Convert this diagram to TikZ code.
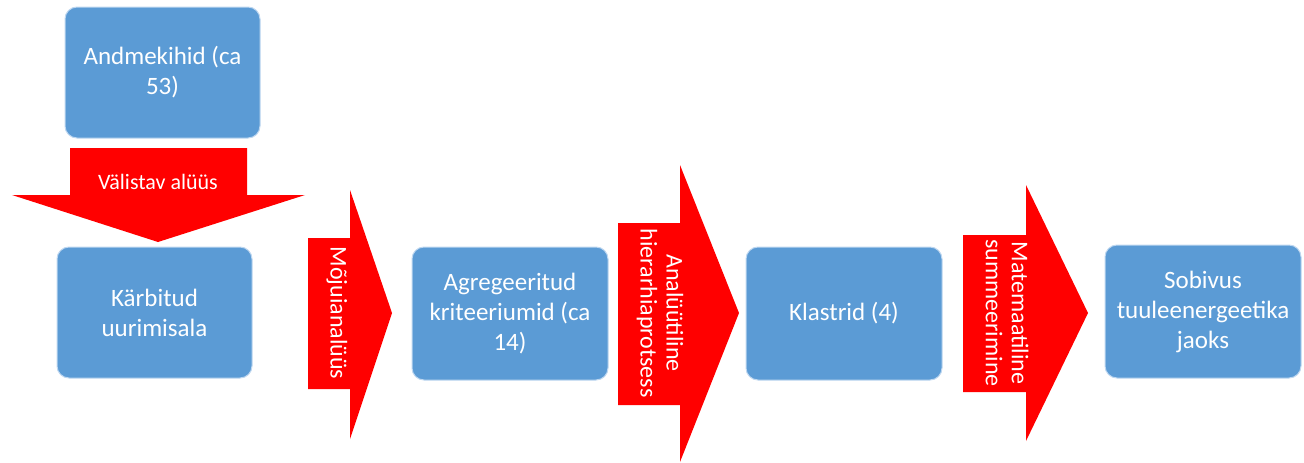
\documentclass[tikz,border=0pt]{standalone}
\usepackage{fontspec}
\setmainfont{Carlito}
\definecolor{boxblue}{RGB}{91,155,213}
\definecolor{boxedge}{RGB}{190,215,240}
\definecolor{arrred}{RGB}{255,0,0}
\begin{document}
\begin{tikzpicture}[x=1pt,y=-1pt,
  box/.style={draw=boxedge, line width=1pt, fill=boxblue, rounded corners=12pt,
    text=white, align=center, inner sep=0pt, minimum width=195pt, minimum height=131pt,
    font=\fontsize{25}{30}\selectfont},
  blockarrow/.style={fill=arrred, draw=none},
  arrtext/.style={text=white, align=center, inner sep=0pt, font=\fontsize{22}{26}\selectfont},
  vtext/.style={arrtext, rotate=-90, font=\fontsize{24}{26}\selectfont}]
\useasboundingbox (0,0) rectangle (1304,463);
% boxes
\node[box] (b1) at (162.5,72.5) {Andmekihid (ca\\53)};
\node[box] (b2) at (154.5,312.5) {Kärbitud\\uurimisala};
\node[box, minimum width=196pt, minimum height=133pt] (b3) at (510,313.5) {Agregeeritud\\kriteeriumid (ca\\14)};
\node[box, minimum width=196pt, minimum height=133pt] (b4) at (844,313.5) {Klastrid (4)};
\node[box, minimum width=196pt, minimum height=133pt] (b5) at (1203,311.5) {Sobivus\\tuuleenergeetika\\jaoks};
% block arrows
\fill[blockarrow] (70,148) -- (247,148) -- (247,195) -- (305,195) -- (158,242) -- (12,195) -- (70,195) -- cycle;
\fill[blockarrow] (308,238) -- (350,238) -- (350,190) -- (392,313) -- (350,439) -- (350,389) -- (308,389) -- cycle;
\fill[blockarrow] (618,223) -- (680,223) -- (680,165) -- (739,313) -- (680,462) -- (680,405) -- (618,405) -- cycle;
\fill[blockarrow] (963,235) -- (1026,235) -- (1026,185) -- (1088,313) -- (1026,441) -- (1026,392) -- (963,392) -- cycle;
% arrow labels
\node[arrtext] (t1) at (158,182) {Välistav alüüs};
\node[vtext] (t2) at (337,313) {Mõjuianalüüs};
\node[vtext] (t3) at (660,313) {Analüütiline\\hierarhiaprotsess};
\node[vtext] (t4) at (1007,313) {Matemaatiline\\summeerimine};
\end{tikzpicture}
\end{document}
